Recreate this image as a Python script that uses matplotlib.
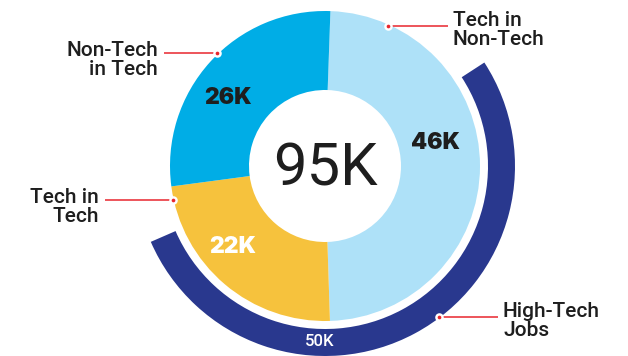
import matplotlib.pyplot as plt

# donut values (thousands of jobs)
segments = ["Tech in\nNon-Tech", "Tech in\nTech", "Non-Tech\nin Tech"]
values = [46, 22, 26]
value_labels = ["46K", "22K", "26K"]
total = 95
total_label = "95K"
high_tech = 50
high_tech_label = "50K"
high_tech_name = "High-Tech\nJobs"

colors = ["#AEE1F8", "#F6C23D", "#00ADE6"]
navy = "#29388E"
red = "#E8262D"
ink = "#1E1E1E"

W, H = 628, 356
fig = plt.figure(figsize=(W / 100, H / 100), dpi=100)
ax = fig.add_axes([0, 0, 1, 1])

cx, cy = 325, 190

# inner donut
ax.pie(values, colors=colors, radius=155, center=(cx, cy), startangle=88,
       counterclock=False, wedgeprops=dict(width=79, linewidth=0), frame=True)

# outer high-tech arc
ax.pie([high_tech, total - high_tech], colors=[navy, "none"], radius=190,
       center=(cx, cy), startangle=33, counterclock=False,
       wedgeprops=dict(width=27, linewidth=0), frame=True)
ax.set_xlim(0, W)
ax.set_ylim(0, H)
ax.set_aspect("equal")
ax.axis("off")

# center total
ax.text(cx, cy - 3, total_label, ha="center", va="center", fontsize=43,
        family="Roboto", weight="normal", color=ink)

# value labels inside the slices
heavy = dict(ha="center", va="center", fontsize=16.5, family="Inter", weight=900)
ax.text(cx + 110, cy + 23, value_labels[0], color=ink, **heavy)
ax.text(cx - 92, cy - 81, value_labels[1], color="white", **heavy)
ax.text(cx - 97, cy + 68, value_labels[2], color=ink, **heavy)

ax.text(cx - 5, 14, high_tech_label, ha="center", va="center", fontsize=12,
        family="Roboto", weight="medium", color="white")


def callout(dot, end, text, side):
    ax.plot([dot[0], end[0]], [dot[1], end[1]], color=red, lw=1.1,
            solid_capstyle="butt", zorder=5)
    ax.scatter([dot[0]], [dot[1]], s=38, color="white", zorder=6, linewidths=0)
    ax.scatter([dot[0]], [dot[1]], s=7, color=red, zorder=7, linewidths=0)
    style = dict(va="top", fontsize=15, family="Roboto", weight="medium",
                 color=ink, linespacing=1.02)
    if side == "left":
        ax.text(end[0] - 6, end[1] + 12, text, ha="right", **style)
    else:
        ax.text(end[0] + 5, end[1] + 15, text, ha="left", **style)


callout((388, H - 26), (448, H - 26), segments[0], "right")
callout((173, H - 200), (105, H - 200), segments[1], "left")
callout((217, H - 53), (164, H - 53), segments[2], "left")
callout((439, H - 317), (498, H - 317), high_tech_name, "right")

fig.savefig("out.png", dpi=100, facecolor="white")
